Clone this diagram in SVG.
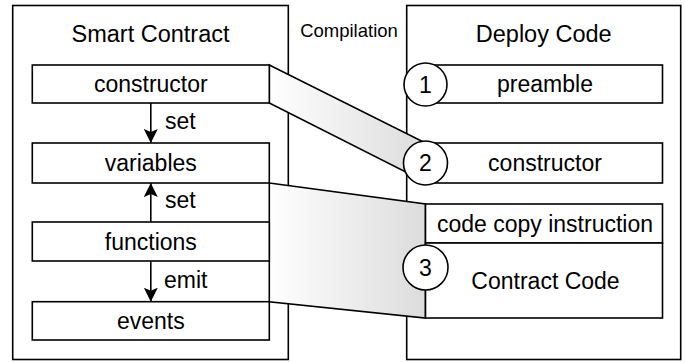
<svg xmlns="http://www.w3.org/2000/svg" width="685" height="362" viewBox="0 0 685 362">
<style>
.box{fill:#fff;stroke:#000;stroke-width:1.6}
.outer{fill:#fff;stroke:#000;stroke-width:1.6}
.band{stroke:#000;stroke-width:1.6;stroke-linejoin:miter}
.circ{fill:#fff;stroke:#000;stroke-width:1.6}
text{font-family:"Liberation Sans",Arial,Helvetica,sans-serif;fill:#000}
.lbl{font-size:23px;text-anchor:middle}
.title{font-size:23.5px;text-anchor:middle}
.small{font-size:18.5px;text-anchor:middle}
.edge{font-size:23px}
.arrow{stroke:#000;stroke-width:1.6;fill:none}
</style>
<defs>
<linearGradient id="g" x1="0" y1="0" x2="1" y2="0">
<stop offset="0" stop-color="#ffffff"/>
<stop offset="1" stop-color="#dcdcdc"/>
</linearGradient>
<marker id="ah" markerUnits="userSpaceOnUse" markerWidth="15" markerHeight="14" refX="14" refY="7" orient="auto">
<path d="M0,0 L14,7 L0,14 L3,7 z" fill="#000"/>
</marker>
</defs>

<g id="smart-contract">
<rect class="outer" x="12.7" y="5.5" width="275.6" height="354"/>
<text class="title" x="150.5" y="42">Smart Contract</text>
</g>
<g id="deploy-code">
<rect class="outer" x="406.7" y="5.5" width="274" height="354"/>
<text class="title" x="543.7" y="42">Deploy Code</text>
</g>
<text class="small" x="349" y="36.5">Compilation</text>

<g id="connectors">
<polygon class="band" fill="url(#g)" points="269.3,65 425.5,143 425.5,182 269.3,103"/>
<polygon class="band" fill="url(#g)" points="269.3,183 425.5,204 425.5,318 269.3,301.7"/>
<line class="arrow" x1="150.8" y1="103" x2="150.8" y2="143" marker-end="url(#ah)"/>
<line class="arrow" x1="150.8" y1="222" x2="150.8" y2="183" marker-end="url(#ah)"/>
<line class="arrow" x1="150.8" y1="261" x2="150.8" y2="301.7" marker-end="url(#ah)"/>
<text class="edge" x="165" y="128.5">set</text>
<text class="edge" x="165" y="207.5">set</text>
<text class="edge" x="164" y="287.5">emit</text>
</g>

<g id="sc-constructor">
<rect class="box" x="32.3" y="65" width="237" height="38"/>
<text class="lbl" x="150.8" y="92">constructor</text>
</g>
<g id="sc-variables">
<rect class="box" x="32.3" y="143" width="237" height="40"/>
<text class="lbl" x="150.8" y="171">variables</text>
</g>
<g id="sc-functions">
<rect class="box" x="32.3" y="222" width="237" height="39"/>
<text class="lbl" x="150.8" y="249.5">functions</text>
</g>
<g id="sc-events">
<rect class="box" x="32.3" y="301.7" width="237" height="38.3"/>
<text class="lbl" x="150.8" y="329">events</text>
</g>

<g id="dc-preamble">
<rect class="box" x="425.5" y="65" width="237" height="38"/>
<text class="lbl" x="545" y="92">preamble</text>
</g>
<g id="dc-constructor">
<rect class="box" x="425.5" y="143" width="237" height="40"/>
<text class="lbl" x="545" y="171">constructor</text>
</g>
<g id="dc-codecopy">
<rect class="box" x="425.5" y="204" width="237" height="39"/>
<text class="lbl" x="545" y="231.5">code copy instruction</text>
</g>
<g id="dc-contract-code">
<rect class="box" x="425.5" y="243" width="237" height="75"/>
<text class="lbl" x="545.5" y="288.5">Contract Code</text>
</g>

<g id="step-1">
<circle class="circ" cx="425.5" cy="84.5" r="21.5"/>
<text class="lbl" x="425.5" y="92.5">1</text>
</g>
<g id="step-2">
<circle class="circ" cx="425.5" cy="163" r="22"/>
<text class="lbl" x="425.5" y="171">2</text>
</g>
<g id="step-3">
<circle class="circ" cx="425.5" cy="267.5" r="22.5"/>
<text class="lbl" x="425.5" y="275.5">3</text>
</g>
</svg>
